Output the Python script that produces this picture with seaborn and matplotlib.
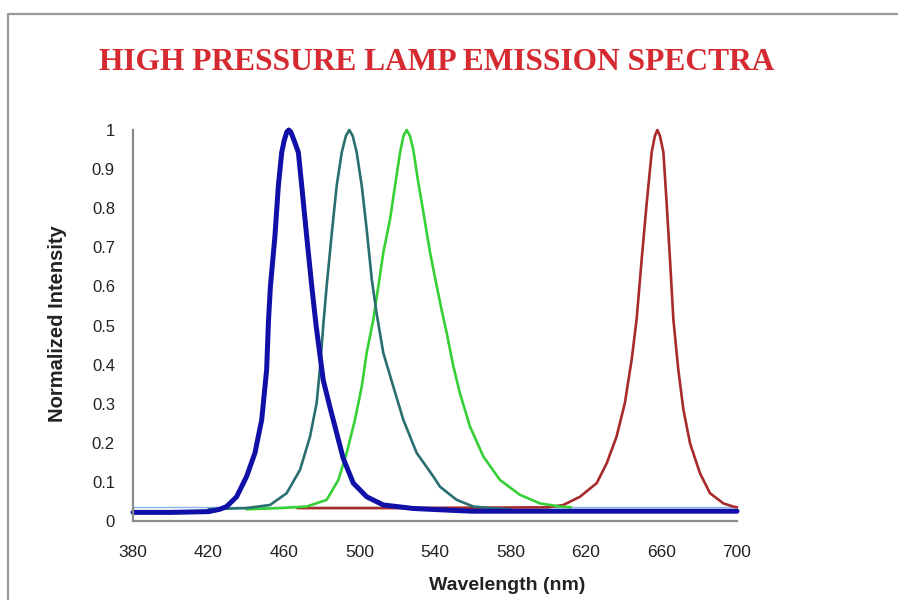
import matplotlib
matplotlib.use("Agg")
import matplotlib.pyplot as plt
from matplotlib.ticker import MultipleLocator, FuncFormatter
from matplotlib.lines import Line2D
import seaborn as sns

# ---------------- data ----------------
title = "HIGH PRESSURE LAMP EMISSION SPECTRA"
x_label = "Wavelength (nm)"
y_label = "Normalized Intensity"
x_ticks = [380, 420, 460, 500, 540, 580, 620, 660, 700]
y_ticks = [0, 0.1, 0.2, 0.3, 0.4, 0.5, 0.6, 0.7, 0.8, 0.9, 1.0]

ref_nm = [380, 700]
ref_val = [0.036, 0.036]

red_nm = [467, 515, 600, 608, 616.8, 625.7, 631, 636.2, 640.6, 644.2, 646.8,
          649.5, 652.2, 654.8, 656.5, 657.8, 659.2, 661, 662.7, 664.5, 666.3,
          668.9, 671.6, 675.1, 680.4, 685.7, 692.8, 698, 700]
red_val = [0.033, 0.033, 0.035, 0.041, 0.062, 0.097, 0.148, 0.216, 0.302,
           0.413, 0.515, 0.669, 0.815, 0.943, 0.985, 1.0, 0.985, 0.943, 0.815,
           0.669, 0.515, 0.387, 0.285, 0.199, 0.122, 0.071, 0.045, 0.037, 0.035]

green_nm = [440, 457.9, 472, 482.6, 488.8, 493.2, 497.6, 501.2, 503.8, 507.3,
            510, 512.6, 516.2, 518.8, 521.5, 523.3, 525, 526.7, 528.5, 531,
            534, 537.4, 540.9, 543.5, 546.2, 549.7, 553.2, 558.5, 565.6, 574.4,
            585, 595.6, 606.2, 612]
green_val = [0.03, 0.033, 0.037, 0.054, 0.105, 0.174, 0.259, 0.344, 0.43,
             0.515, 0.601, 0.686, 0.772, 0.857, 0.943, 0.985, 1.0, 0.985,
             0.95, 0.87, 0.785, 0.686, 0.601, 0.54, 0.481, 0.396, 0.327,
             0.242, 0.165, 0.105, 0.067, 0.045, 0.037, 0.035]

teal_nm = [420, 440, 452.6, 461.4, 468.5, 473.8, 477.3, 479, 480.8, 482.6,
           485.3, 487.9, 490.6, 492.8, 494.6, 496.4, 498.5, 501.2, 503.8,
           506.5, 509.1, 512.6, 517.9, 523.2, 530.3, 539.1, 542.6, 547,
           551.5, 560.3, 569, 580]
teal_val = [0.03, 0.033, 0.041, 0.071, 0.131, 0.216, 0.302, 0.387, 0.50,
            0.601, 0.735, 0.857, 0.943, 0.985, 1.0, 0.985, 0.943, 0.857,
            0.746, 0.618, 0.53, 0.43, 0.344, 0.259, 0.174, 0.114, 0.088,
            0.071, 0.054, 0.037, 0.033, 0.03]

blue_nm = [380, 400, 420, 426, 429.6, 434.9, 440.2, 444.6, 448.2, 450.8,
           451.8, 452.8, 455.2, 457, 458.8, 460.2, 461.5, 462.5, 463.6, 465.2,
           467.6, 469.4, 472, 474.7, 477, 480.8, 484.4, 487.9, 491.4, 496.7,
           503.8, 512.6, 528.5, 546, 560, 700]
blue_val = [0.022, 0.022, 0.024, 0.030, 0.037, 0.062, 0.114, 0.174, 0.259,
            0.387, 0.515, 0.60, 0.729, 0.857, 0.943, 0.975, 0.995, 1.0, 0.995,
            0.975, 0.943, 0.857, 0.729, 0.601, 0.50, 0.36, 0.29, 0.225, 0.16,
            0.097, 0.062, 0.041, 0.032, 0.028, 0.025, 0.025]

# ---------------- drawing ----------------
sns.set_style("white")
plt.rcParams['font.family'] = ['Liberation Sans', 'DejaVu Sans']

W, H = 898, 600
fig = plt.figure(figsize=(W / 100, H / 100), dpi=100)
ax = fig.add_axes([133 / W, 1 - 521 / H, (737 - 133) / W, (521 - 130) / H])

series = [
    (ref_nm, ref_val, "#86b6e8", 1.0),
    (red_nm, red_val, "#a82a2a", 1.9),
    (green_nm, green_val, "#36cf36", 1.9),
    (teal_nm, teal_val, "#2a6f70", 1.9),
    (blue_nm, blue_val, "#1010a8", 3.6),
]
for nm, val, color, lw in series:
    sns.lineplot(x=nm, y=val, color=color, linewidth=lw, ax=ax,
                 estimator=None, sort=False)
for ln in ax.lines:
    ln.set_clip_on(False)
    ln.set_solid_joinstyle("round")

ax.set_xlim(380, 700)
ax.set_ylim(0, 1)
ax.set_xticks(x_ticks)
ax.set_yticks(y_ticks)
ax.xaxis.set_minor_locator(MultipleLocator(8))
ax.yaxis.set_minor_locator(MultipleLocator(0.02))
ax.yaxis.set_major_formatter(FuncFormatter(lambda v, p: f"{v:g}"))

for s in ["top", "right"]:
    ax.spines[s].set_visible(False)
for s in ["left", "bottom"]:
    ax.spines[s].set_color("#8a8a8a")
    ax.spines[s].set_linewidth(1.6)

ax.tick_params(axis="both", which="major", direction="in", length=5,
               width=1.0, color="#8a8a8a", labelcolor="#222222")
ax.tick_params(axis="both", which="minor", direction="in", length=3,
               width=1.0, color="#8a8a8a")
ax.tick_params(axis="x", which="major", labelsize=12.5, pad=17)
ax.tick_params(axis="y", which="major", labelsize=12, pad=13)

ax.set_xlabel(x_label, fontsize=14, fontweight="bold", color="#222222")
ax.set_ylabel(y_label, fontsize=14.5, fontweight="bold", color="#222222")
ax.xaxis.set_label_coords((507 - 133) / 604, (521 - 577) / 391)
ax.yaxis.set_label_coords((67 - 133) / 604, 0.505)

# title, fitted to the reference width
t = fig.text(436.5 / W, 1 - 63 / H, title, ha="center", va="center",
             color="#d42a30", fontfamily="Liberation Serif",
             fontweight="bold", fontsize=22)
fig.canvas.draw()
bb = t.get_window_extent()
t.set_fontsize(22 * 677 / bb.width)

# frame lines of the picture
fig.add_artist(Line2D([8 / W, 1.0], [1 - 14 / H, 1 - 14 / H],
                      transform=fig.transFigure, color="#9a9a9a", lw=1.6))
fig.add_artist(Line2D([8 / W, 8 / W], [0, 1 - 14 / H],
                      transform=fig.transFigure, color="#9a9a9a", lw=1.6))

fig.savefig("out.png", dpi=100, facecolor="white")
